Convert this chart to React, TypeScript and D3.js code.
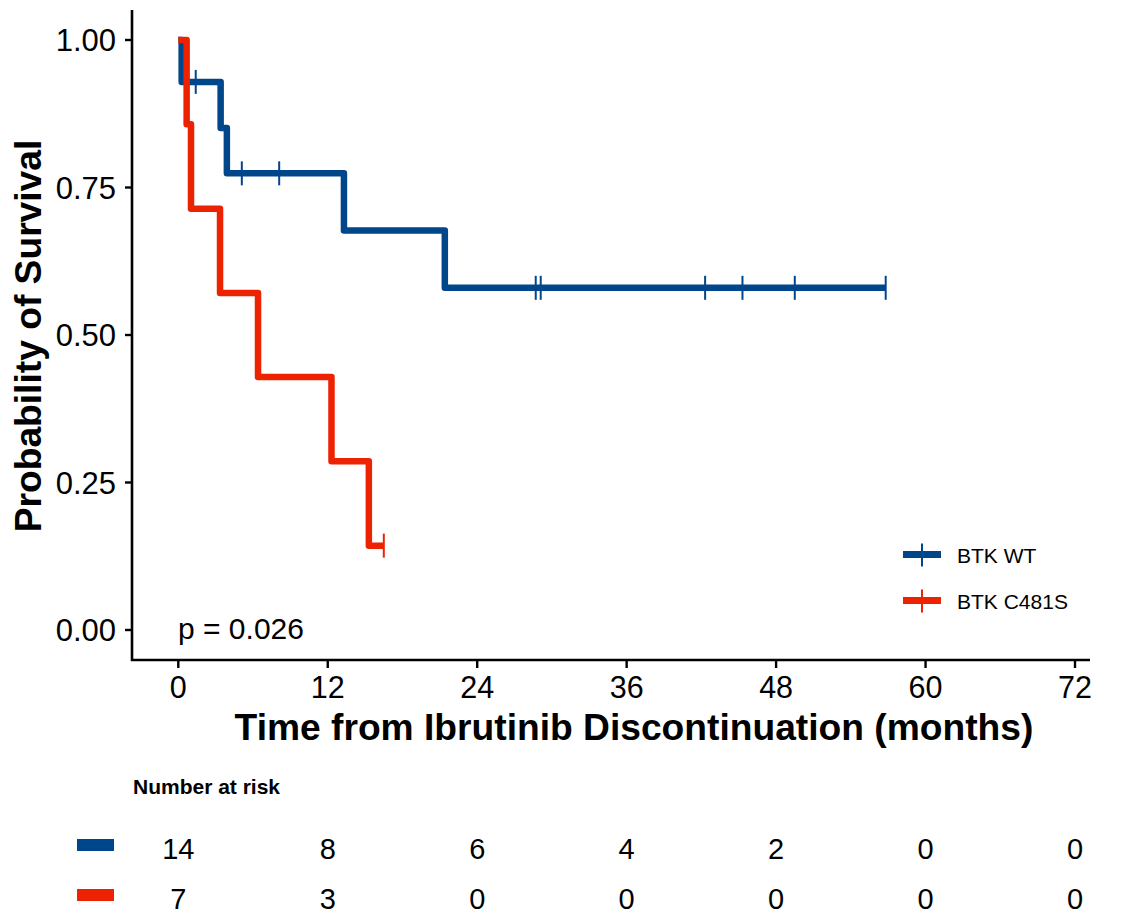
import React from 'react';
import * as d3 from 'd3';

// Kaplan-Meier steps
const wtTimes = [0, 0.27, 3.4, 3.9, 13.3, 21.4, 56.8];
const wtSurv = [1, 0.929, 0.851, 0.774, 0.677, 0.58, 0.58];
const wtCensor = [1.4, 5.1, 8.1, 28.7, 29.1, 42.3, 45.3, 49.5, 56.8];

const mutTimes = [0, 0.67, 1.02, 3.35, 6.4, 12.3, 15.3, 16.5];
const mutSurv = [1, 0.857, 0.714, 0.571, 0.429, 0.286, 0.143, 0.143];
const mutCensor = [16.5];

const groups = ['BTK WT', 'BTK C481S'];
const colors = ['#00468B', '#EC2200'];

const xTicks = [0, 12, 24, 36, 48, 60, 72];
const yTicks = [0, 0.25, 0.5, 0.75, 1];
const riskWT = [14, 8, 6, 4, 2, 0, 0];
const riskMut = [7, 3, 0, 0, 0, 0, 0];

const FONT = '"Liberation Sans", Arial, Helvetica, sans-serif';

export default function App() {
  const x = d3.scaleLinear().domain([0, 72]).range([178.3, 1075]);
  const y = d3.scaleLinear().domain([0, 1]).range([630, 40]);

  const line = d3
    .line<[number, number]>()
    .x((d) => x(d[0]))
    .y((d) => y(d[1]))
    .curve(d3.curveStepAfter);

  const series = [
    { times: wtTimes, surv: wtSurv, censor: wtCensor },
    { times: mutTimes, surv: mutSurv, censor: mutCensor },
  ];

  // survival value at time t (step function)
  const survAt = (times: number[], surv: number[], t: number) => {
    let s = surv[0];
    times.forEach((tt, i) => {
      if (tt <= t) s = surv[i];
    });
    return s;
  };

  const risk = [riskWT, riskMut];
  const fmt = d3.format('.2f');

  return (
    <svg
      width={1129}
      height={914}
      style={{ display: 'block', position: 'fixed', left: 0, top: 0 }}
      fontFamily={FONT}
    >
      <rect width={1129} height={914} fill="#fff" />

      {/* curves */}
      {series.map((s, i) => (
        <g key={groups[i]}>
          <path
            d={line(s.times.map((t, j) => [t, s.surv[j]]) as [number, number][]) || ''}
            fill="none"
            stroke={colors[i]}
            strokeWidth={6.5}
            strokeLinejoin="round"
          />
          {s.censor.map((c, j) => {
            const cy = y(survAt(s.times, s.surv, c));
            return (
              <line key={j} x1={x(c)} x2={x(c)} y1={cy - 12} y2={cy + 12} stroke={colors[i]} strokeWidth={2} />
            );
          })}
        </g>
      ))}

      {/* axes */}
      <line x1={132} x2={132} y1={10} y2={661} stroke="#000" strokeWidth={2.6} />
      <line x1={131} x2={1090} y1={660} y2={660} stroke="#000" strokeWidth={2.6} />
      {yTicks.map((t) => (
        <g key={t}>
          <line x1={125} x2={132} y1={y(t)} y2={y(t)} stroke="#000" strokeWidth={2.4} />
          <text x={116} y={y(t)} dy="0.36em" textAnchor="end" fontSize={31}>
            {fmt(t)}
          </text>
        </g>
      ))}
      {xTicks.map((t) => (
        <g key={t}>
          <line x1={x(t)} x2={x(t)} y1={660} y2={668} stroke="#000" strokeWidth={2.4} />
          <text x={x(t)} y={698} textAnchor="middle" fontSize={30.5}>
            {t}
          </text>
        </g>
      ))}

      <text x={634} y={740} textAnchor="middle" fontSize={37.2} fontWeight="bold">
        Time from Ibrutinib Discontinuation (months)
      </text>
      <text transform="translate(41,336) rotate(-90)" textAnchor="middle" fontSize={37.2} fontWeight="bold">
        Probability of Survival
      </text>

      <text x={178} y={639} fontSize={30}>
        p = 0.026
      </text>

      {/* legend */}
      {groups.map((g, i) => {
        const ly = 554.5 + i * 46;
        return (
          <g key={g}>
            <line x1={903} x2={941} y1={ly} y2={ly} stroke={colors[i]} strokeWidth={7} />
            <line x1={922} x2={922} y1={ly - 11} y2={ly + 12} stroke={colors[i]} strokeWidth={2} />
            <text x={957} y={ly + 8} fontSize={21}>
              {g}
            </text>
          </g>
        );
      })}

      {/* risk table */}
      <text x={133} y={794} fontSize={21} fontWeight="bold">
        Number at risk
      </text>
      {risk.map((row, i) => {
        const by = 859 + i * 50;
        return (
          <g key={i}>
            <rect x={77} y={by - 20} width={37} height={12} fill={colors[i]} />
            {row.map((n, j) => (
              <text key={j} x={x(xTicks[j])} y={by} textAnchor="middle" fontSize={29}>
                {n}
              </text>
            ))}
          </g>
        );
      })}
    </svg>
  );
}
